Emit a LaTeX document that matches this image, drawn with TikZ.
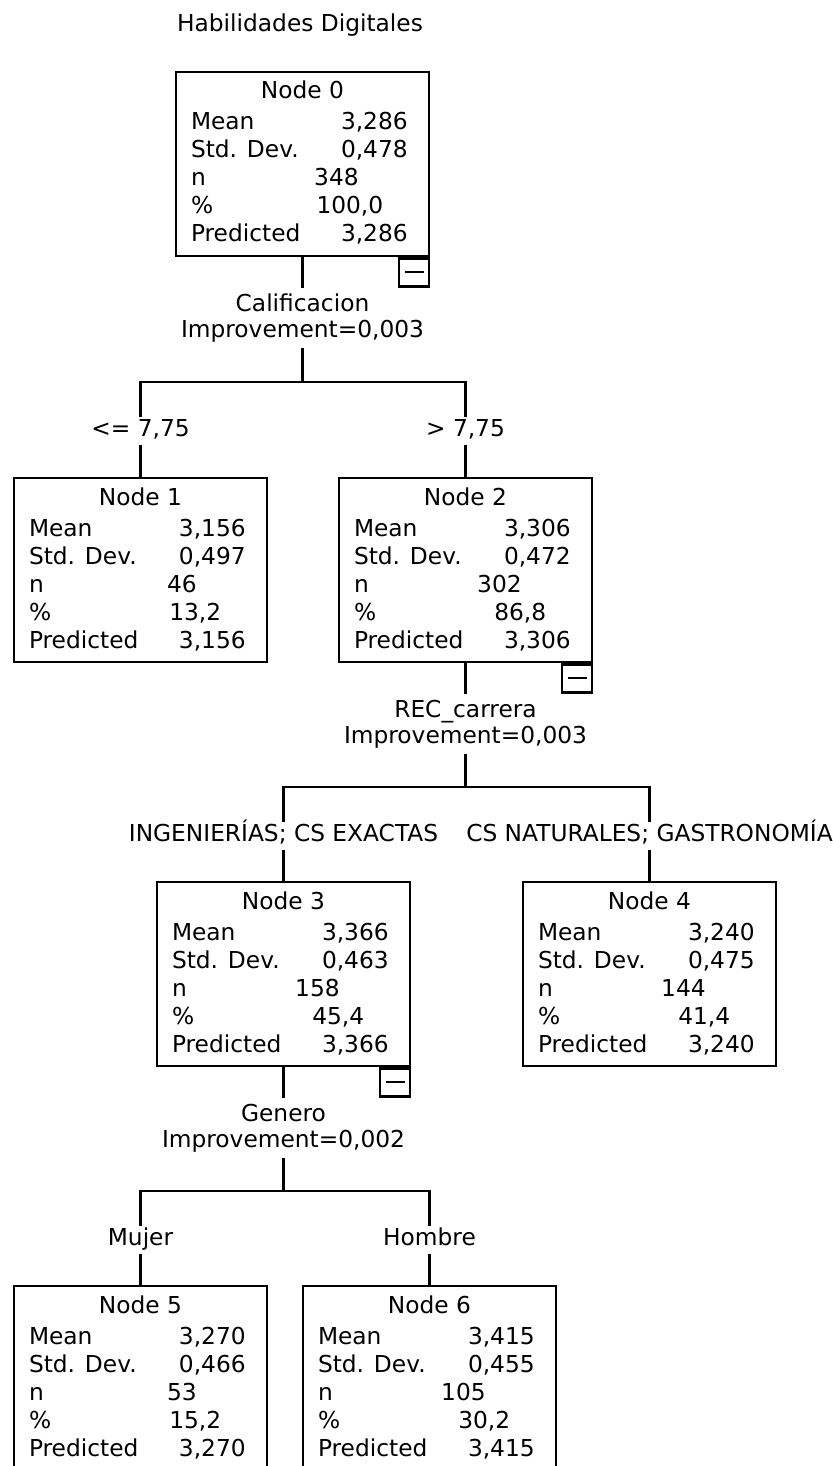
\documentclass[tikz,border=0pt]{standalone}
\usepackage{fontspec}
\setmainfont{DejaVu Sans}
\usepackage{tikz}
\usetikzlibrary{calc}
\newcommand{\treefont}{\fontsize{11.65}{13}\selectfont}
% rows of one tree node: name, number, mean, sd, n, pct int, pct dec, predicted
\newcommand{\nodestats}[8]{%
\node[celltxt,anchor=base] (#1-title) at ($(#1.north)+(0,28)$) {Node #2};
\node[celltxt,anchor=base west] (#1-lmean) at ($(#1.north west)+(15,59)$) {Mean};
\node[celltxt,anchor=base east] (#1-vmean) at ($(#1.north west)+(234,59)$) {#3};
\node[celltxt,anchor=base west] (#1-lsd) at ($(#1.north west)+(15,87)$) {Std. Dev.};
\node[celltxt,anchor=base east] (#1-vsd) at ($(#1.north west)+(234,87)$) {#4};
\node[celltxt,anchor=base west] (#1-ln) at ($(#1.north west)+(15,115)$) {n};
\node[celltxt,anchor=base east] (#1-vn) at ($(#1.north west)+(185,115)$) {#5};
\node[celltxt,anchor=base west] (#1-lpct) at ($(#1.north west)+(15,143)$) {\%};
\node[celltxt,anchor=base west] (#1-vpct) at ($(#1.north west)+(185,143)$) {\llap{#6},#7};
\node[celltxt,anchor=base west] (#1-lpred) at ($(#1.north west)+(15,171)$) {Predicted};
\node[celltxt,anchor=base east] (#1-vpred) at ($(#1.north west)+(234,171)$) {#8};
}

\begin{document}
\begin{tikzpicture}[x=0.5pt,y=-0.5pt,line width=1.15pt,font=\treefont,
  celltxt/.style={inner sep=0pt},
  statbox/.style={draw,inner sep=0pt,minimum width=126.5pt,minimum height=92pt,anchor=north},
  minusbox/.style={draw,inner sep=0pt,minimum width=15pt,minimum height=14pt,anchor=north east,
    path picture={\draw[line width=1pt] ([xshift=-4.75pt]path picture bounding box.center) -- ([xshift=4.75pt]path picture bounding box.center);}},
  splitlbl/.style={inner sep=0pt,minimum height=29pt,align=center},
  branchlbl/.style={inner sep=0pt,minimum height=12.5pt,text height=0.75em,text depth=0.25em}]
\useasboundingbox (0,0) rectangle (832,1466);

\node[anchor=base] (title) at (300,32) {Habilidades Digitales};

% boxes
\node[statbox] (n0) at (302.5,71) {};
\node[statbox] (n1) at (140.5,477) {};
\node[statbox] (n2) at (465.5,477) {};
\node[statbox] (n3) at (283.5,881) {};
\node[statbox] (n4) at (649.5,881) {};
\node[statbox] (n5) at (140.5,1285) {};
\node[statbox] (n6) at (429.5,1285) {};

\nodestats{n0}{0}{3,286}{0,478}{348}{100}{0}{3,286}
\nodestats{n1}{1}{3,156}{0,497}{46}{13}{2}{3,156}
\nodestats{n2}{2}{3,306}{0,472}{302}{86}{8}{3,306}
\nodestats{n3}{3}{3,366}{0,463}{158}{45}{4}{3,366}
\nodestats{n4}{4}{3,240}{0,475}{144}{41}{4}{3,240}
\nodestats{n5}{5}{3,270}{0,466}{53}{15}{2}{3,270}
\nodestats{n6}{6}{3,415}{0,455}{105}{30}{2}{3,415}

\node[minusbox] (m0) at (n0.south east) {};
\node[minusbox] (m2) at (n2.south east) {};
\node[minusbox] (m3) at (n3.south east) {};

% split labels
\node[splitlbl] (s0) at (302.5,318) {Calificacion\\Improvement=0,003};
\node[splitlbl] (s2) at (465.5,724) {REC\_carrera\\Improvement=0,003};
\node[splitlbl] (s3) at (283.5,1128) {Genero\\Improvement=0,002};

\coordinate (b0) at (302.5,382);
\coordinate (b2) at (465.5,787);
\coordinate (b3) at (283.5,1191);

% branch labels
\node[branchlbl] (e1) at (140.5,431) {<= 7,75};
\node[branchlbl] (e2) at (465.5,431) {> 7,75};
\node[branchlbl] (e3) at (283.5,836) {INGENIERÍAS; CS EXACTAS};
\node[branchlbl] (e4) at (649.5,836) {CS NATURALES; GASTRONOMÍA};
\node[branchlbl] (e5) at (140.5,1240) {Mujer};
\node[branchlbl] (e6) at (429.5,1240) {Hombre};

% connectors
\draw (n0.south) -- (s0.north);
\draw (s0.south) -- (b0);
\draw (e1.north) |- (b0) -| (e2.north);
\draw (e1.south) -- (n1.north);
\draw (e2.south) -- (n2.north);

\draw (n2.south) -- (s2.north);
\draw (s2.south) -- (b2);
\draw (e3.north) |- (b2) -| (e4.north);
\draw (e3.south) -- (n3.north);
\draw (e4.south) -- (n4.north);

\draw (n3.south) -- (s3.north);
\draw (s3.south) -- (b3);
\draw (e5.north) |- (b3) -| (e6.north);
\draw (e5.south) -- (n5.north);
\draw (e6.south) -- (n6.north);
\end{tikzpicture}
\end{document}
